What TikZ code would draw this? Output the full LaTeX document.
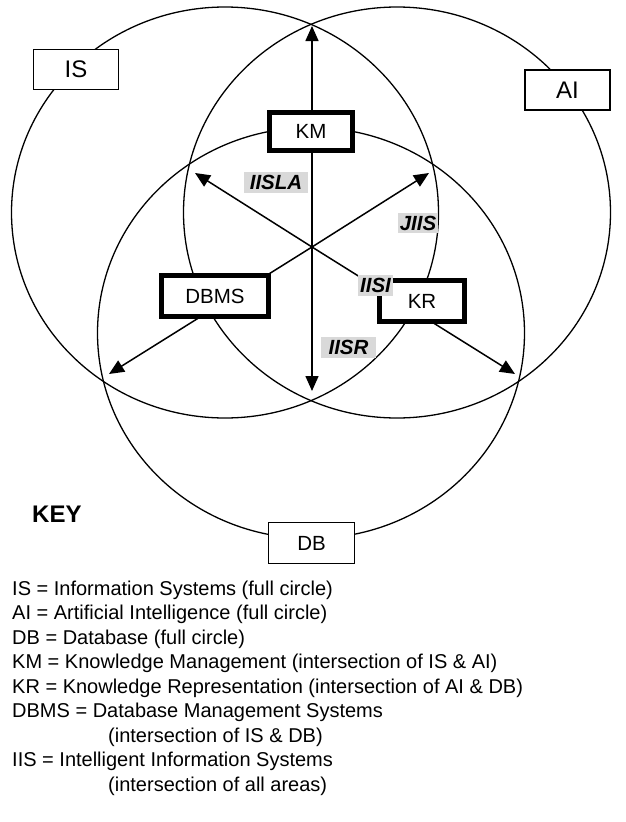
\documentclass[tikz,border=0pt]{standalone}
\usepackage{fontspec}
\setmainfont{Liberation Sans}
\usetikzlibrary{arrows.meta,positioning}

\begin{document}
\begin{tikzpicture}[x=1pt,y=-1pt,
  area/.style={line width=1.3pt},
  tag/.style={draw,line width=1.3pt,fill=white,inner sep=0pt,minimum width=85pt,minimum height=40pt,font=\fontsize{24}{28}\selectfont},
  part/.style={draw,line width=5pt,fill=white,inner sep=0pt,minimum height=38pt,font=\fontsize{20.5}{24}\selectfont},
  link/.style={line width=1.5pt,-{Triangle[length=15pt,width=13pt]}},
  flow/.style={fill=black!15,inner xsep=2pt,inner ysep=3pt,font=\fontsize{20.5}{24}\selectfont\bfseries\itshape},
  keyline/.style={anchor=base west,inner sep=0pt,font=\fontsize{20}{24}\selectfont}]
\useasboundingbox (0,0) rectangle (625,822);
% the three areas
\draw[area] (225,212.5) ellipse [x radius=213.5pt,y radius=205.5pt];
\draw[area] (397,212.5) ellipse [x radius=213.5pt,y radius=205.5pt];
\draw[area] (311,333) ellipse [x radius=213.5pt,y radius=205.5pt];
% arrows out of the common centre
\coordinate (ctr) at (312,247);
\coordinate (tipN) at (312,26);
\coordinate (tipS) at (312,391);
\coordinate (tipNW) at (195,173);
\coordinate (tipNE) at (429,173);
\coordinate (tipSW) at (109,374);
\coordinate (tipSE) at (515,374);
\foreach \t in {tipN,tipS,tipNW,tipNE,tipSW,tipSE}
  \draw[link] (ctr) -- (\t);
% area names and overlaps
\node[tag] (is) at (76,69.5) {IS};
\node[tag] (ai) at (567.5,90) {AI};
\node[tag,minimum width=86pt,minimum height=41pt,font=\fontsize{20.5}{24}\selectfont] (db) at (311.5,543) {DB};
\node[part,minimum width=83pt] (km) at (311,131.5) {KM};
\node[part,minimum width=107pt,minimum height=41pt] (dbms) at (215,296) {DBMS};
\node[part,minimum width=85pt,minimum height=41pt] (kr) at (422,301) {KR};
\node[flow,minimum width=64pt] (iisla) at (276,182.5) {IISLA};
\node[flow] (jiis) at (418,223) {JIIS};
\node[flow] (iisi) at (375.5,285.5) {IISI};
\node[flow,minimum width=55pt] (iisr) at (348.5,347.5) {IISR};
% key
\node[anchor=base west,inner sep=0pt,font=\fontsize{24}{28}\selectfont\bfseries] (key) at (32,522) {KEY};
\foreach \n/\x/\txt in {0/12/{IS = Information Systems (full circle)},
                        1/12/{AI = Artificial Intelligence (full circle)},
                        2/12/{DB = Database (full circle)},
                        3/12/{KM = Knowledge Management (intersection of IS \& AI)},
                        4/12/{KR = Knowledge Representation (intersection of AI \& DB)},
                        5/12/{DBMS = Database Management Systems},
                        6/108/{(intersection of IS \& DB)},
                        7/12/{IIS = Intelligent Information Systems},
                        8/108/{(intersection of all areas)}}
  \node[keyline] (k\n) at (\x,{595+24.5*\n}) {\txt};
\end{tikzpicture}
\end{document}
